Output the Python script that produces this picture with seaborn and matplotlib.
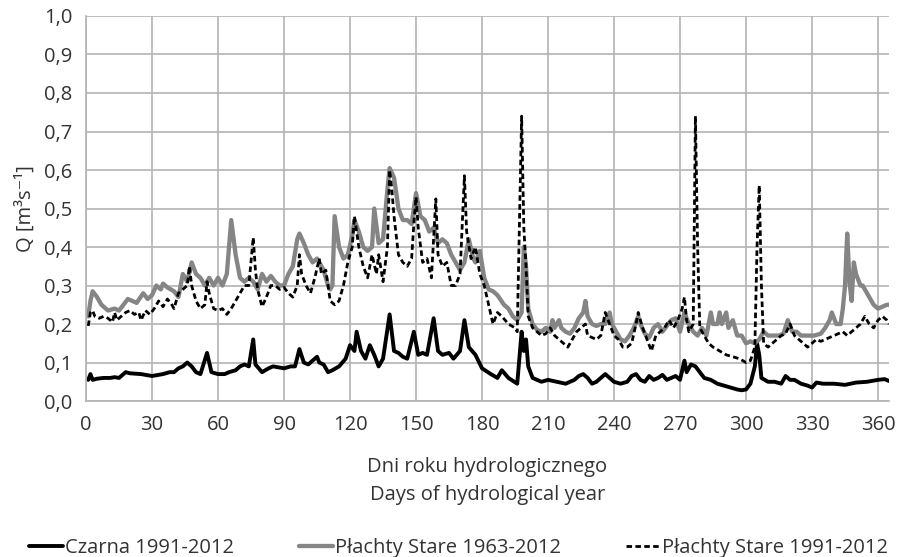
"""Daily flow along the hydrological year: Czarna vs Płachty Stare."""

import matplotlib

matplotlib.use("Agg")
import matplotlib.pyplot as plt
import pandas as pd
import seaborn as sns
from matplotlib.ticker import FuncFormatter, MultipleLocator

# Czarna 1991-2012
czarna_day = [1, 2, 3, 5, 8, 11, 13, 15, 18, 20, 25, 30, 35, 38, 40, 42, 44, 46, 48, 50, 52, 55, 57,
              60, 63, 65, 68, 70, 72, 74, 76, 77, 80, 83, 85, 90, 93, 95, 97, 99, 101, 103, 105, 106,
              108, 110, 112, 115, 118, 120, 122, 123, 125, 127, 129, 131, 133, 135, 138, 140, 142, 144,
              146, 149, 151, 153, 155, 158, 160, 162, 165, 167, 170, 172, 174, 177, 180, 184, 187, 189,
              192, 196, 198, 199, 200, 201, 203, 207, 210, 214, 218, 222, 224, 226, 228, 230, 232, 234,
              236, 238, 240, 243, 246, 248, 250, 252, 254, 256, 258, 260, 262, 264, 266, 268, 270, 272,
              273, 275, 277, 279, 281, 284, 287, 290, 293, 296, 298, 300, 302, 304, 305, 306, 307, 310,
              313, 316, 318, 320, 322, 325, 328, 330, 332, 335, 340, 345, 350, 355, 360, 363, 365]
czarna_q = [0.055, 0.07, 0.055, 0.058, 0.06, 0.06, 0.062, 0.06, 0.075, 0.072, 0.07, 0.065, 0.07, 0.075,
            0.075, 0.085, 0.09, 0.1, 0.09, 0.075, 0.07, 0.125, 0.075, 0.07, 0.07, 0.075, 0.08, 0.09,
            0.095, 0.09, 0.16, 0.095, 0.075, 0.085, 0.09, 0.085, 0.09, 0.09, 0.135, 0.1, 0.095, 0.105,
            0.115, 0.1, 0.095, 0.075, 0.08, 0.09, 0.11, 0.145, 0.13, 0.18, 0.13, 0.11, 0.145, 0.12,
            0.09, 0.11, 0.225, 0.13, 0.125, 0.115, 0.11, 0.18, 0.12, 0.125, 0.12, 0.215, 0.13, 0.12,
            0.125, 0.11, 0.13, 0.21, 0.14, 0.12, 0.085, 0.07, 0.06, 0.08, 0.06, 0.045, 0.18, 0.13,
            0.16, 0.09, 0.06, 0.05, 0.055, 0.05, 0.045, 0.055, 0.065, 0.07, 0.06, 0.045, 0.05, 0.06,
            0.07, 0.06, 0.05, 0.045, 0.05, 0.065, 0.07, 0.055, 0.05, 0.065, 0.055, 0.06, 0.068, 0.055,
            0.06, 0.065, 0.055, 0.105, 0.075, 0.095, 0.09, 0.075, 0.06, 0.055, 0.045, 0.04, 0.035,
            0.03, 0.028, 0.03, 0.045, 0.09, 0.15, 0.12, 0.06, 0.05, 0.05, 0.045, 0.065, 0.055, 0.055,
            0.045, 0.04, 0.035, 0.048, 0.045, 0.045, 0.042, 0.048, 0.05, 0.055, 0.057, 0.052]

# Płachty Stare 1963-2012
ps63_day = [1, 2, 3, 5, 7, 10, 13, 15, 17, 19, 21, 23, 26, 28, 30, 32, 34, 35, 37, 40, 42, 44, 46, 48,
            50, 52, 54, 56, 58, 60, 62, 64, 66, 68, 70, 72, 74, 76, 78, 80, 82, 84, 86, 88, 90, 92, 94,
            96, 97, 99, 101, 103, 105, 107, 108, 110, 111, 112, 113, 115, 117, 119, 121, 122, 124, 126,
            128, 130, 131, 133, 135, 137, 138, 140, 142, 144, 146, 148, 150, 152, 154, 156, 158, 160,
            162, 164, 166, 168, 170, 172, 174, 176, 177, 179, 181, 183, 185, 187, 190, 192, 194, 196,
            198, 199, 200, 201, 203, 205, 207, 209, 211, 212, 213, 215, 216, 218, 220, 222, 224, 226,
            227, 228, 230, 232, 234, 236, 238, 239, 241, 243, 245, 247, 249, 251, 252, 254, 256, 258,
            260, 262, 264, 266, 268, 270, 272, 274, 276, 278, 280, 282, 284, 285, 287, 288, 289, 291,
            292, 294, 296, 298, 300, 302, 304, 306, 308, 310, 312, 315, 317, 319, 321, 323, 325, 328,
            331, 334, 336, 338, 339, 341, 343, 344, 345, 346, 347, 348, 349, 350, 352, 353, 354, 356,
            358, 360, 362, 364, 365]
ps63_q = [0.22, 0.26, 0.285, 0.27, 0.25, 0.235, 0.24, 0.235, 0.25, 0.265, 0.26, 0.255, 0.28, 0.265,
          0.275, 0.3, 0.29, 0.305, 0.295, 0.285, 0.27, 0.33, 0.31, 0.36, 0.33, 0.32, 0.3, 0.32, 0.3,
          0.32, 0.3, 0.33, 0.47, 0.38, 0.32, 0.31, 0.32, 0.31, 0.29, 0.33, 0.31, 0.325, 0.31, 0.3, 0.3,
          0.33, 0.35, 0.42, 0.435, 0.41, 0.38, 0.36, 0.37, 0.35, 0.34, 0.3, 0.29, 0.3, 0.48, 0.4, 0.37,
          0.38, 0.43, 0.47, 0.44, 0.4, 0.39, 0.4, 0.5, 0.41, 0.42, 0.55, 0.605, 0.58, 0.5, 0.47, 0.47,
          0.46, 0.54, 0.48, 0.47, 0.44, 0.45, 0.41, 0.42, 0.41, 0.38, 0.36, 0.34, 0.36, 0.42, 0.37,
          0.36, 0.39, 0.32, 0.29, 0.285, 0.275, 0.25, 0.24, 0.22, 0.21, 0.23, 0.4, 0.35, 0.24, 0.2,
          0.185, 0.18, 0.19, 0.18, 0.21, 0.19, 0.21, 0.19, 0.18, 0.175, 0.19, 0.215, 0.23, 0.26,
          0.22, 0.2, 0.195, 0.2, 0.2, 0.23, 0.2, 0.18, 0.16, 0.155, 0.17, 0.19, 0.22, 0.2, 0.175,
          0.165, 0.19, 0.2, 0.18, 0.195, 0.21, 0.215, 0.18, 0.23, 0.2, 0.18, 0.17, 0.19, 0.17, 0.23,
          0.2, 0.2, 0.23, 0.2, 0.23, 0.19, 0.21, 0.17, 0.17, 0.15, 0.155, 0.15, 0.16, 0.18, 0.17,
          0.17, 0.17, 0.175, 0.21, 0.18, 0.18, 0.17, 0.17, 0.17, 0.175, 0.19, 0.21, 0.23, 0.2, 0.2,
          0.24, 0.3, 0.435, 0.31, 0.26, 0.36, 0.33, 0.3, 0.3, 0.29, 0.27, 0.25, 0.24, 0.245, 0.25, 0.25]

# Płachty Stare 1991-2012
ps91_day = [1, 2, 3, 4, 6, 8, 10, 12, 13, 14, 16, 18, 20, 22, 24, 25, 27, 29, 31, 33, 35, 37, 39, 40,
            42, 44, 46, 47, 48, 50, 52, 54, 55, 56, 58, 60, 62, 64, 66, 68, 70, 72, 74, 76, 77, 78, 80,
            82, 84, 86, 88, 90, 92, 94, 96, 97, 98, 100, 102, 104, 106, 107, 109, 110, 111, 113, 115,
            117, 119, 121, 122, 124, 126, 128, 130, 132, 133, 135, 137, 138, 139, 140, 142, 144, 146,
            148, 149, 150, 151, 153, 155, 157, 158, 159, 160, 162, 164, 166, 168, 170, 172, 173, 175,
            177, 179, 181, 183, 185, 187, 189, 192, 195, 196, 198, 199, 200, 201, 203, 205, 207, 209,
            211, 213, 215, 217, 219, 221, 223, 225, 227, 228, 230, 232, 234, 236, 238, 240, 242, 244,
            246, 248, 250, 251, 253, 255, 257, 259, 261, 263, 265, 267, 269, 271, 272, 273, 274, 276,
            277, 278, 279, 281, 283, 285, 288, 291, 294, 297, 300, 302, 304, 305, 306, 307, 308, 310,
            312, 314, 316, 318, 320, 322, 324, 326, 328, 330, 332, 334, 336, 338, 340, 342, 344, 346,
            348, 350, 352, 354, 356, 358, 360, 362, 364, 365]
ps91_q = [0.195, 0.23, 0.235, 0.22, 0.215, 0.22, 0.215, 0.205, 0.23, 0.21, 0.22, 0.23, 0.235, 0.225,
          0.23, 0.21, 0.235, 0.225, 0.24, 0.26, 0.245, 0.265, 0.25, 0.24, 0.28, 0.29, 0.3, 0.35, 0.3,
          0.26, 0.24, 0.25, 0.31, 0.28, 0.24, 0.235, 0.24, 0.225, 0.24, 0.26, 0.28, 0.3, 0.3, 0.425,
          0.34, 0.29, 0.245, 0.27, 0.3, 0.3, 0.29, 0.295, 0.28, 0.27, 0.3, 0.38, 0.33, 0.3, 0.28, 0.32,
          0.37, 0.33, 0.34, 0.3, 0.26, 0.25, 0.26, 0.3, 0.36, 0.4, 0.48, 0.4, 0.35, 0.32, 0.38, 0.33,
          0.38, 0.31, 0.4, 0.6, 0.55, 0.48, 0.38, 0.36, 0.35, 0.37, 0.46, 0.53, 0.45, 0.36, 0.37, 0.32,
          0.42, 0.525, 0.38, 0.35, 0.36, 0.3, 0.3, 0.33, 0.585, 0.44, 0.37, 0.4, 0.33, 0.3, 0.25, 0.2,
          0.23, 0.22, 0.2, 0.19, 0.18, 0.74, 0.45, 0.35, 0.22, 0.19, 0.18, 0.17, 0.175, 0.19, 0.17,
          0.16, 0.15, 0.14, 0.16, 0.18, 0.19, 0.2, 0.17, 0.165, 0.16, 0.17, 0.23, 0.2, 0.17, 0.16,
          0.14, 0.14, 0.15, 0.2, 0.23, 0.19, 0.16, 0.13, 0.17, 0.18, 0.19, 0.21, 0.19, 0.21, 0.24,
          0.27, 0.21, 0.18, 0.2, 0.74, 0.4, 0.19, 0.17, 0.15, 0.14, 0.13, 0.12, 0.115, 0.11, 0.1,
          0.105, 0.14, 0.4, 0.56, 0.3, 0.15, 0.14, 0.15, 0.16, 0.17, 0.175, 0.2, 0.17, 0.16, 0.15,
          0.14, 0.15, 0.16, 0.155, 0.16, 0.165, 0.17, 0.175, 0.18, 0.17, 0.18, 0.19, 0.2, 0.22, 0.2,
          0.19, 0.21, 0.22, 0.21, 0.2]

LABELS = ["Czarna 1991-2012", "Płachty Stare 1963-2012", "Płachty Stare 1991-2012"]
GRID = "#b3b3b3"
TXT = "#333333"
FS = 14.5

sns.set_style("white")
plt.rcParams["font.family"] = ["Open Sans", "DejaVu Sans"]

fig = plt.figure(figsize=(8.99, 5.57), dpi=100)
ax = fig.add_axes([0.0957, 0.280, 0.8932, 0.6913])

sns.lineplot(x=czarna_day, y=czarna_q, color="black", linewidth=2.8, ax=ax, label=LABELS[0])
sns.lineplot(x=ps63_day, y=ps63_q, color="#858585", linewidth=3.1, ax=ax, label=LABELS[1])
sns.lineplot(x=ps91_day, y=ps91_q, color="black", linewidth=2.0, linestyle=(0, (2.0, 1.2)), ax=ax,
             label=LABELS[2])

ax.set_xlim(0, 365)
ax.set_ylim(0, 1.0)
ax.xaxis.set_major_locator(MultipleLocator(30))
ax.yaxis.set_major_locator(MultipleLocator(0.1))
ax.yaxis.set_major_formatter(FuncFormatter(lambda v, _: f"{v:.1f}".replace(".", ",")))
ax.grid(True, color=GRID, lw=1.2)
ax.set_axisbelow(True)
for side in ["top", "right"]:
    ax.spines[side].set_visible(False)
for side in ["left", "bottom"]:
    ax.spines[side].set_color(GRID)
    ax.spines[side].set_linewidth(1.2)
ax.tick_params(axis="both", length=6, width=1.2, color=GRID, labelsize=FS, labelcolor=TXT, pad=4)

ax.set_ylabel("Q [m³s⁻¹]", fontsize=FS, color=TXT, labelpad=6)
ax.set_xlabel("Dni roku hydrologicznego\nDays of hydrological year", fontsize=FS,
              color=TXT, labelpad=16, linespacing=1.55)

ax.get_legend().remove()
handles, _ = ax.get_legend_handles_labels()
fig.legend(handles, LABELS, loc="lower center", bbox_to_anchor=(0.51, -0.035), ncol=3,
           frameon=False, fontsize=FS, handlelength=1.7, handletextpad=0.1, columnspacing=3.2,
           labelcolor=TXT)

fig.savefig("out.png", dpi=100)
